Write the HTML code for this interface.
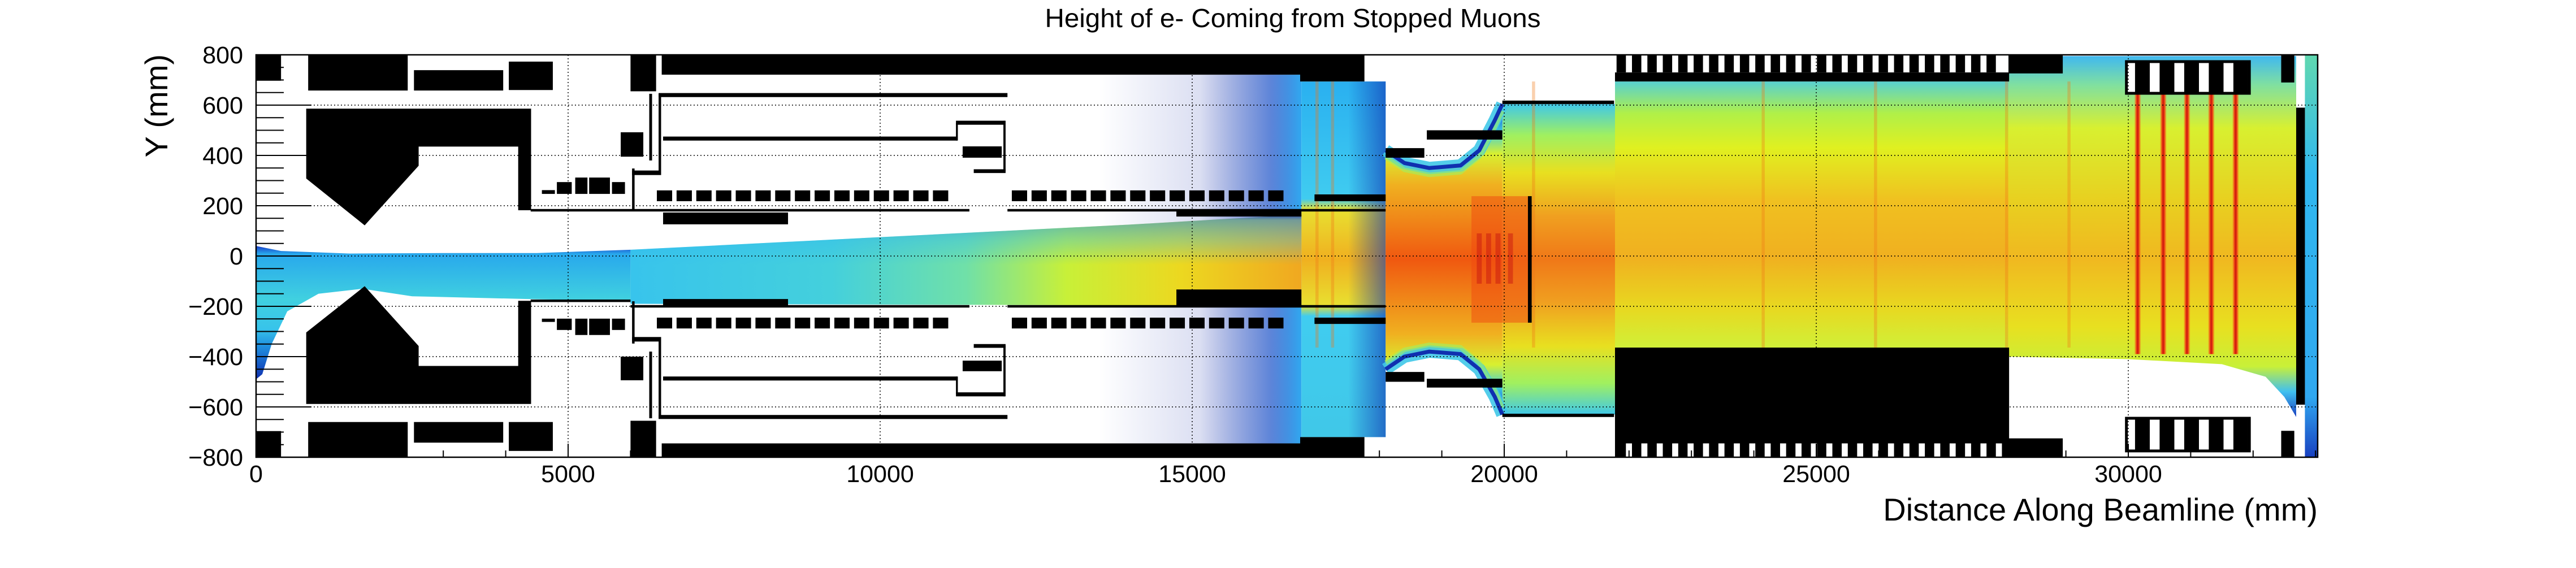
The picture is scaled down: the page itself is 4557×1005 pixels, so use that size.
<!DOCTYPE html>
<html><head><meta charset="utf-8">
<style>
html,body{margin:0;padding:0;background:#fff;}
svg{display:block;font-family:"Liberation Sans",Arial,sans-serif;}
</style></head>
<body>
<svg id="chart" width="4557" height="1005" viewBox="0 0 4557 1005" xmlns="http://www.w3.org/2000/svg">
<defs>
  <clipPath id="plotClip"><rect x="453" y="97" width="3647" height="712"/></clipPath>
  <linearGradient id="gLeft" x1="0" y1="0" x2="0" y2="1">
    <stop offset="0" stop-color="#1a3cc8"/><stop offset="0.06" stop-color="#28a8ec"/>
    <stop offset="0.4" stop-color="#40d0e0"/><stop offset="0.62" stop-color="#38c4ea"/>
    <stop offset="0.75" stop-color="#2090e0"/><stop offset="1" stop-color="#1030b0"/>
  </linearGradient>
  <linearGradient id="gMid" x1="0" y1="0" x2="1" y2="0">
    <stop offset="0" stop-color="#38c4ec"/><stop offset="0.3" stop-color="#44d0dc"/>
    <stop offset="0.5" stop-color="#70e0a8"/><stop offset="0.65" stop-color="#c8f038"/>
    <stop offset="0.82" stop-color="#ecd820"/><stop offset="1" stop-color="#f0a820"/>
  </linearGradient>
  <linearGradient id="gMidTop" x1="0" y1="0" x2="0" y2="1">
    <stop offset="0" stop-color="#1030b8" stop-opacity="0.9"/><stop offset="0.06" stop-color="#2090e8" stop-opacity="0.6"/>
    <stop offset="0.3" stop-color="#30b8f0" stop-opacity="0.35"/><stop offset="0.55" stop-color="#30b8f0" stop-opacity="0"/>
    <stop offset="1" stop-color="#30b8f0" stop-opacity="0"/>
  </linearGradient>
  <linearGradient id="gSpray" x1="0" y1="0" x2="1" y2="0">
    <stop offset="0" stop-color="#1028a8" stop-opacity="0"/><stop offset="0.5" stop-color="#1028a8" stop-opacity="0.15"/>
    <stop offset="0.85" stop-color="#1850c8" stop-opacity="0.7"/><stop offset="1" stop-color="#30a8f0"/>
  </linearGradient>
  <linearGradient id="gCol" x1="0" y1="0" x2="0" y2="1">
    <stop offset="0" stop-color="#2ab0f0"/><stop offset="0.33" stop-color="#40ccf0"/>
    <stop offset="0.36" stop-color="#e8e030"/><stop offset="0.5" stop-color="#f0b020"/>
    <stop offset="0.63" stop-color="#e8e030"/><stop offset="0.66" stop-color="#40ccf0"/>
    <stop offset="1" stop-color="#40c8e8"/>
  </linearGradient>
  <linearGradient id="gBulge" x1="0" y1="0" x2="0" y2="1">
    <stop offset="0" stop-color="#1020a0"/><stop offset="0.04" stop-color="#2070e0"/>
    <stop offset="0.09" stop-color="#40d0d8"/><stop offset="0.16" stop-color="#d8f030"/>
    <stop offset="0.26" stop-color="#f0b020"/><stop offset="0.5" stop-color="#f05810"/>
    <stop offset="0.74" stop-color="#f0b020"/><stop offset="0.84" stop-color="#d8f030"/>
    <stop offset="0.91" stop-color="#40d0d8"/><stop offset="0.96" stop-color="#2070e0"/>
    <stop offset="1" stop-color="#1020a0"/>
  </linearGradient>
  <linearGradient id="gR5" x1="0" y1="0" x2="0" y2="1">
    <stop offset="0" stop-color="#40c8e8"/><stop offset="0.1" stop-color="#a0f060"/>
    <stop offset="0.22" stop-color="#e8e020"/><stop offset="0.36" stop-color="#f0a020"/>
    <stop offset="0.5" stop-color="#f07818"/><stop offset="0.64" stop-color="#f0a020"/>
    <stop offset="0.78" stop-color="#e8e020"/><stop offset="0.9" stop-color="#a0f060"/>
    <stop offset="1" stop-color="#40c8e8"/>
  </linearGradient>
  <linearGradient id="gR6" x1="0" y1="0" x2="0" y2="1">
    <stop offset="0" stop-color="#58d0d0"/><stop offset="0.12" stop-color="#b0f048"/>
    <stop offset="0.25" stop-color="#e0f020"/><stop offset="0.45" stop-color="#f0c020"/>
    <stop offset="0.66" stop-color="#f0b020"/><stop offset="0.85" stop-color="#e8d820"/>
    <stop offset="1" stop-color="#d0f038"/>
  </linearGradient>
  <linearGradient id="gR7" x1="0" y1="0" x2="0" y2="1">
    <stop offset="0" stop-color="#40b8f0"/><stop offset="0.08" stop-color="#80e0a0"/>
    <stop offset="0.2" stop-color="#d8f030"/><stop offset="0.4" stop-color="#e8d020"/>
    <stop offset="0.56" stop-color="#f0b820"/><stop offset="0.75" stop-color="#e8e020"/>
    <stop offset="0.86" stop-color="#c8f038"/><stop offset="0.93" stop-color="#40c0f0"/>
    <stop offset="1" stop-color="#1a40c0"/>
  </linearGradient>
  <linearGradient id="gR8" x1="0" y1="0" x2="0" y2="1">
    <stop offset="0" stop-color="#60d8b0"/><stop offset="0.3" stop-color="#30b8f0"/>
    <stop offset="0.85" stop-color="#30a8f0"/><stop offset="1" stop-color="#1840c0"/>
  </linearGradient>
  <linearGradient id="gRed" x1="0" y1="0" x2="1" y2="0">
    <stop offset="0" stop-color="#f08020" stop-opacity="0.3"/><stop offset="0.3" stop-color="#f04010"/>
    <stop offset="0.5" stop-color="#c81810"/><stop offset="0.7" stop-color="#f04010"/>
    <stop offset="1" stop-color="#f08020" stop-opacity="0.3"/>
  </linearGradient>
  <linearGradient id="gFringe" x1="0" y1="0" x2="1" y2="0">
    <stop offset="0" stop-color="#1030b0" stop-opacity="0"/><stop offset="1" stop-color="#1030b0" stop-opacity="0.6"/>
  </linearGradient>
</defs>
<rect x="0" y="0" width="4557" height="1005" fill="#fff"/>
<g id="plot" clip-path="url(#plotClip)"></g>
<g id="axes"></g>
<text x="2287" y="48" text-anchor="middle" font-size="46" textLength="877" lengthAdjust="spacingAndGlyphs">Height of e- Coming from Stopped Muons</text>
<text x="4100" y="921" text-anchor="end" font-size="56">Distance Along Beamline (mm)</text>
<text transform="translate(296,96) rotate(-90)" text-anchor="end" font-size="56">Y (mm)</text>
<script>
const xTicks = [0, 5000, 10000, 15000, 20000, 25000, 30000];
const xTickLabels = ["0", "5000", "10000", "15000", "20000", "25000", "30000"];
const yTicks = [-800, -600, -400, -200, 0, 200, 400, 600, 800];
const yTickLabels = ["\u2212800", "\u2212600", "\u2212400", "\u2212200", "0", "200", "400", "600", "800"];
const leftBeam = [[0,40],[400,20],[1500,10],[3000,12],[4500,12],[6000,25],[6000,-178],[4500,-172],[2500,-160],[1700,-130],[1000,-150],[500,-220],[250,-350],[100,-470],[0,-490]];
const coneBeam = [[6000,25],[8000,50],[10000,75],[12000,100],[14000,125],[16750,165],[16750,-198],[6000,-190]];
const bulgeBeam = [[18100,420],[18400,370],[18800,350],[19300,360],[19600,420],[19850,540],[19970,604],[19970,-630],[19850,-560],[19600,-450],[19300,-390],[18800,-380],[18400,-400],[18100,-450]];
const rightBeam = [[28080,795],[32690,795],[32690,-640],[32500,-560],[32200,-480],[31500,-430],[30000,-410],[28080,-400]];
const bandRects = [[16750,18100,-720,694,"gCol"],[19970,21800,-630,604,"gR5"],[21775,28090,-364,694,"gR6"],[32830,33100,-800,800,"gR8"]];
const sprayRects = [[13500,16750,-745,721]];
const fringeRects = [[17500,18100,-720,694]];
const redStripes = [30150, 30560, 30940, 31330, 31720];
const orangeLines = [17000, 17250, 20470, 24150, 25950, 28050, 29050];
const blocks = [
 [0,400,697,800],[835,2430,658,800],[2530,3960,658,739],[4050,4755,660,773],[6000,6410,655,800],
 [0,400,-800,-696],[835,2430,-800,-660],[2530,3960,-742,-660],[4050,4755,-775,-660],[6000,6410,-800,-655],
 [6500,16750,721,800],[6500,16750,-800,-745],[16730,17760,694,800],[16730,17760,-800,-720],
 [4580,4788,247,262],[4820,5058,247,294],[5114,5310,247,312],[5337,5670,247,312],[5703,5911,247,294],
 [4580,4788,-262,-249],[4820,5058,-294,-249],[5114,5310,-314,-249],[5337,5670,-314,-249],[5703,5911,-294,-249],
 [5843,6205,395,492],[5843,6205,-494,-400],
 [6522,8524,126,173],[6522,8524,-198,-171],[14747,16750,157,182],[14747,16750,-198,-133],
 [11322,11948,391,436],[11322,11948,-458,-416],
 [16960,18100,218,245],[16960,18100,-270,-245],
 [18100,18720,391,429],[18100,18720,-500,-461],[18760,19970,463,500],[18760,19970,-523,-488],
 [4400,11430,177,187],[12040,18100,177,187],[4400,6000,-183,-173],[6000,11430,-205,-195],[12040,18100,-205,-195],
 [19970,21760,604,618],[19970,21760,-640,-627],[20380,20440,-265,238],
 [21775,28090,-800,-364],[21775,28090,694,730],
 [28080,28950,726,800],[28080,28950,-800,-725],
 [32450,32660,690,800],[32450,32660,-800,-695],[32690,32830,-591,590],
 [6300,6345,380,645],[6300,6345,-645,-380],[6450,6490,330,645],[6450,6490,-645,-330],
 [6450,12040,632,648],[6450,12040,-648,-632],[6025,6065,180,348],[6025,6065,-348,-180],
 [6025,6490,322,340],[6025,6490,-340,-322],
 [6522,11230,459,475],[11215,11245,459,530],[11215,12000,522,538],[11975,12010,337,538],[11500,12010,330,345],
 [6522,11230,-495,-479],[11215,11245,-550,-479],[11215,12000,-558,-542],[11975,12010,-558,-357],[11500,12010,-365,-350]
];
const topCone = [[803,586],[4407,586],[4407,182],[4200,182],[4200,435],[2605,435],[2605,359],[1740,122],[803,308]];
const bottomCone = [[803,-588],[4407,-588],[4407,-178],[4200,-178],[4200,-437],[2605,-437],[2605,-358],[1740,-120],[803,-304]];
const dashStart = 6422, dashEnd = 16750, dashPitch = 316, dashWidth = 245;
const dashGap = [11330, 11930];
const dashRows = [[218,261],[-288,-245]];
const teethStart = 21800, teethEnd = 28080, teethPitch = 247, teethWidth = 150;
const frameBoxes = [[29970,31940,647,773],[29970,31940,-775,-645]];
const hotBars = [19600, 19750, 19900, 20100];

const X = mm => 453 + mm * 0.1104;
const Y = mm => 453 - mm * 0.445;
const NS = "http://www.w3.org/2000/svg";
const plot = document.getElementById('plot');
const axes = document.getElementById('axes');
function mk(tag, attrs, parent) {
  const e = document.createElementNS(NS, tag);
  for (const k in attrs) e.setAttribute(k, attrs[k]);
  parent.appendChild(e);
  return e;
}
function pts(arr) { return arr.map(p => X(p[0]).toFixed(1) + "," + Y(p[1]).toFixed(1)).join(" "); }
function rect(b, fill, parent) {
  return mk('rect', {x: X(b[0]), y: Y(b[3]), width: X(b[1]) - X(b[0]), height: Y(b[2]) - Y(b[3]), fill: fill}, parent);
}

sprayRects.forEach(b => {
  const r = rect(b, "url(#gSpray)", plot);
  
  
});
bandRects.forEach(b => {
  const r = rect(b, "url(#" + b[4] + ")", plot);
  
  
});
fringeRects.forEach(b => {
  const r = rect(b, "url(#gFringe)", plot);
  
  
});
[[leftBeam, "url(#gLeft)", "left-beam-density"], [coneBeam, "url(#gMid)", "cone-beam-density"], [coneBeam, "url(#gMidTop)", "cone-beam-edge"], [bulgeBeam, "url(#gBulge)", "bulge-beam-density"], [rightBeam, "url(#gR7)", "right-beam-density"]].forEach(d => {
  const p = mk('polygon', {points: pts(d[0]), fill: d[1]}, plot);
  
  
});
// bulge edges
[bulgeBeam.slice(0, 7), bulgeBeam.slice(7)].forEach(edge => {
  [["#40c8e8", 22, 0.9], ["#a0f060", 8, 0.6], ["#1030b0", 7, 1]].forEach((s, i) => {
    const off = i === 2 ? 0 : 0;
    const l = mk('polyline', {points: pts(edge), fill: "none", stroke: s[0], "stroke-width": s[1], opacity: s[2], "stroke-linejoin": "round"}, plot);
    if (i === 1) l.setAttribute('transform', edge[0][1] > 0 ? 'translate(0,12)' : 'translate(0,-12)');
    
    
  });
});
const hot = rect([19475, 20410, -265, 238], "#f04a10", plot);
hot.setAttribute('opacity', '0.5');


hotBars.forEach(x => {
  const r = rect([x - 40, x + 40, -110, 90], "#c81810", plot);
  r.setAttribute('opacity', '0.5');
  
  
});
orangeLines.forEach(x => {
  const r = rect([x - 25, x + 25, -364, 694], "#f07818", plot);
  r.setAttribute('opacity', '0.35');
  
  
});
redStripes.forEach(x => {
  const r = rect([x - 50, x + 50, -390, 647], "url(#gRed)", plot);
  
  
});
blocks.forEach(b => {
  const r = rect(b, "#000", plot);
  
  
});
[topCone, bottomCone].forEach(c => {
  const p = mk('polygon', {points: pts(c), fill: "#000"}, plot);
  
  
});
dashRows.forEach(row => {
  for (let x = dashStart; x + dashWidth <= dashEnd; x += dashPitch) {
    if (x + dashWidth > dashGap[0] && x < dashGap[1]) continue;
    const r = rect([x, x + dashWidth, row[0], row[1]], "#000", plot);
    
    
  }
});
for (let x = teethStart; x + teethWidth <= teethEnd; x += teethPitch) {
  const t = rect([x, x + teethWidth, 730, 800], "#000", plot);
  
  
  const g = rect([x + teethWidth, Math.min(x + teethPitch, teethEnd - 30), -800, -745], "#fff", plot);
  
  
}
frameBoxes.forEach(b => {
  const f = rect(b, "#fff", plot);
  f.setAttribute('stroke', '#000');
  f.setAttribute('stroke-width', '5');
  
  
  const w = (b[1] - b[0]) / 5;
  for (let i = 0; i < 5; i++) {
    const bar = rect([b[0] + i * w + w * 0.35, b[0] + (i + 1) * w - 20, b[2], b[3]], "#000", plot);
    
    
  }
});
xTicks.forEach(t => {
  if (t === 0) return;
  const l = mk('line', {x1: X(t), x2: X(t), y1: 97, y2: 809, stroke: "#000", "stroke-width": 1.5, "stroke-dasharray": "2,4"}, axes);
  
  
});
yTicks.forEach(t => {
  if (t === 800 || t === -800) return;
  const l = mk('line', {x1: 453, x2: 4100, y1: Y(t), y2: Y(t), stroke: "#000", "stroke-width": 1.5, "stroke-dasharray": "2,4"}, axes);
  
  
});
const fr = mk('rect', {x: 453, y: 97, width: 3647, height: 712, fill: "none", stroke: "#000", "stroke-width": 2.5}, axes);


for (let v = -800; v <= 800; v += 50) {
  const major = (v % 200 === 0);
  const l = mk('line', {x1: 453, x2: 453 + (major ? 98 : 49), y1: Y(v), y2: Y(v), stroke: "#000", "stroke-width": 2}, axes);
  
  
}
for (let v = 0; v <= 33000; v += 1000) {
  const major = (v % 5000 === 0);
  const l = mk('line', {x1: X(v), x2: X(v), y1: 809, y2: 809 - (major ? 24 : 12), stroke: "#000", "stroke-width": 2}, axes);
  
  
}
yTicks.forEach((t, i) => {
  const tx = mk('text', {x: 430, y: Y(t) + 15, "text-anchor": "end", "font-size": 43}, axes);
  tx.textContent = yTickLabels[i];
  
  
});
xTicks.forEach((t, i) => {
  const tx = mk('text', {x: X(t), y: 853, "text-anchor": "middle", "font-size": 43}, axes);
  tx.textContent = xTickLabels[i];
  
  
});
</script>
</svg>
</body></html>
